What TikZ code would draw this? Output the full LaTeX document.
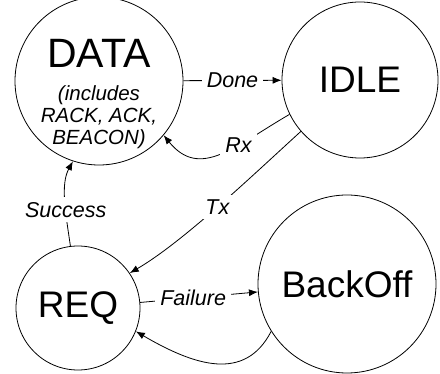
\documentclass[tikz,border=0pt]{standalone}
\usepackage{fontspec}
\setmainfont{Liberation Sans}
\usetikzlibrary{arrows.meta}
\begin{document}
\begin{tikzpicture}[x=1pt,y=-1pt,
  state/.style={circle, draw, line width=0.8pt, inner sep=0pt,
    font=\fontsize{37}{40}\selectfont},
  arr/.style={line width=0.8pt, -{Latex[length=9pt,width=7pt]}},
  lbl/.style={fill=white, inner sep=5pt, font=\itshape\fontsize{21.5}{23}\selectfont}]
\useasboundingbox (0,0) rectangle (440,374);

% states
\node[state, minimum size=168pt] (data) at (99,81) {};
\node[font=\fontsize{41}{44}\selectfont, inner sep=0pt, anchor=base] (datatitle) at (99,68) {DATA};
\node[font=\itshape\fontsize{20.5}{22}\selectfont, align=center, inner sep=0pt] (datanote) at (99,117)
  {(includes\\RACK, ACK,\\BEACON)};
\node[state, minimum size=156pt] (idle) at (360,80) {IDLE};
\node[state, minimum size=124pt] (req) at (78,308) {REQ};
\node[state, minimum size=178pt] (backoff) at (347,284) {BackOff};

% transitions
\draw[arr] (data) -- node[lbl] {Done} (idle);
\draw[arr] (idle.206) .. controls (235,146) and (200,180) .. node[lbl,pos=0.35] {Rx} (data.-40);
\draw[arr] (idle.221) .. controls (253,175) and (183,242) .. node[lbl,pos=0.5] {Tx} (req.34);
\draw[arr] (req.97) .. controls (66,215) and (60,185) .. node[lbl,pos=0.4] {Success} (data.-108);
\draw[arr] (req) -- node[lbl,pos=0.45] {Failure} (backoff);
\draw[arr] (backoff.212) .. controls (245,382) and (195,366) .. (req.-22);
\end{tikzpicture}
\end{document}
